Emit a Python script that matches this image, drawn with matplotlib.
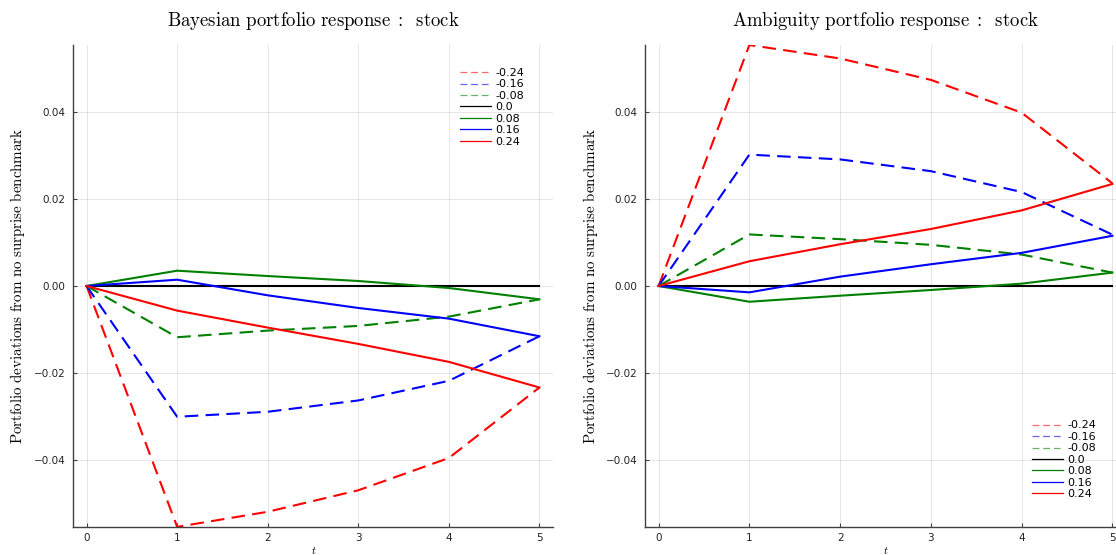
import matplotlib
matplotlib.use("Agg")
import matplotlib.pyplot as plt
from matplotlib.lines import Line2D
import numpy as np

plt.rcParams['mathtext.fontset'] = 'cm'
plt.rcParams['font.family'] = ['DejaVu Sans']

t = [0, 1, 2, 3, 4, 5]
labels = ["-0.24", "-0.16", "-0.08", "0.0", "0.08", "0.16", "0.24"]

bayes = {
    "-0.24": [0.0, -0.05537, -0.0519, -0.04696, -0.03954, -0.02333],
    "-0.16": [0.0, -0.03006, -0.02891, -0.02631, -0.0218, -0.01155],
    "-0.08": [0.0, -0.01178, -0.01025, -0.00918, -0.00704, -0.00306],
    "0.0":   [0.0, 0.0, 0.0, 0.0, 0.0, 0.0],
    "0.08":  [0.0, 0.00352, 0.00229, 0.00115, -0.00046, -0.00306],
    "0.16":  [0.0, 0.00145, -0.00214, -0.00505, -0.0075, -0.01155],
    "0.24":  [0.0, -0.00566, -0.00956, -0.01331, -0.01744, -0.02333],
}
ambig = {
    "-0.24": [0.0, 0.0554, 0.0523, 0.04738, 0.03985, 0.0236],
    "-0.16": [0.0, 0.0302, 0.0291, 0.0264, 0.0216, 0.0118],
    "-0.08": [0.0, 0.01185, 0.01077, 0.00946, 0.00723, 0.00308],
    "0.0":   [0.0, 0.0, 0.0, 0.0, 0.0, 0.0],
    "0.08":  [0.0, -0.00362, -0.00223, -0.00092, 0.00054, 0.00308],
    "0.16":  [0.0, -0.00146, 0.00215, 0.005, 0.00762, 0.01154],
    "0.24":  [0.0, 0.00569, 0.0096, 0.0131, 0.01738, 0.02346],
}

colors = {"-0.24": "#ff0000", "-0.16": "#0000ff", "-0.08": "#008000", "0.0": "#000000",
          "0.08": "#008000", "0.16": "#0000ff", "0.24": "#ff0000"}
dashed = {"-0.24", "-0.16", "-0.08"}

W, H = 1116, 555
fig = plt.figure(figsize=(W / 100, H / 100), dpi=100)

lim = max(max(abs(v) for v in vals) for d in (bayes, ambig) for vals in d.values())

def px(x0, y0, x1, y1):
    return [x0 / W, 1 - y1 / H, (x1 - x0) / W, (y1 - y0) / H]

panels = [
    (bayes, px(73, 45, 553, 527), r"$\mathrm{Bayesian\ portfolio\ response}\;:\;\ \mathrm{stock}$", 313, 18,
     (460, 68)),
    (ambig, px(645, 45, 1126, 527), r"$\mathrm{Ambiguity\ portfolio\ response}\;:\;\ \mathrm{stock}$", 885, 590,
     (1032, 420.5)),
]

for data, pos, title, tx, ylx, leg in panels:
    ax = fig.add_axes(pos)
    for lab in labels:
        if lab in dashed:
            ax.plot(t, data[lab], color=colors[lab], lw=1.5, dashes=(6.5, 3.5))
        else:
            ax.plot(t, data[lab], color=colors[lab], lw=1.5)
    ax.set_xlim(-0.15, 5.15)
    ax.set_ylim(-lim, lim)
    ax.set_xticks([0, 1, 2, 3, 4, 5])
    ax.set_yticks([-0.04, -0.02, 0.0, 0.02, 0.04])
    ax.set_yticklabels(["\u22120.04", "\u22120.02", "0.00", "0.02", "0.04"])
    ax.grid(True, color="black", alpha=0.1, lw=0.7)
    for s in ("top", "right"):
        ax.spines[s].set_visible(False)
    for s in ("left", "bottom"):
        ax.spines[s].set_color("#404040")
        ax.spines[s].set_linewidth(1.0)
    ax.tick_params(direction="in", length=3, width=0.8, color="#404040",
                   labelsize=7.5, labelcolor="#222222", pad=5.5)
    ax.tick_params(axis="x", pad=4)
    handles = []
    for lab in labels:
        if lab in dashed:
            handles.append(Line2D([], [], color=colors[lab], lw=0.9, alpha=0.6, dashes=(5.5, 3.0)))
        else:
            handles.append(Line2D([], [], color=colors[lab], lw=0.9))
    ax.legend(handles, labels, loc="upper left",
              bbox_to_anchor=(leg[0] / W, 1 - leg[1] / H), bbox_transform=fig.transFigure,
              frameon=False, fontsize=8, handlelength=2.8, handletextpad=0.35,
              labelspacing=0.13, borderpad=0, borderaxespad=0)
    fig.text(tx / W, 1 - 26.5 / H, title, ha="center", va="baseline", fontsize=13.5)
    fig.text(ylx / W, 1 - 286 / H, r"$\mathrm{Portfolio\ deviations\ from\ no\ surprise\ benchmark}$",
             rotation=90, ha="center", va="center", fontsize=10.8)
    fig.text((pos[0] + (14 + 226.5) / W), 1 - 550 / H, r"$t$", ha="center", va="center", fontsize=8)

fig.savefig("out.png", dpi=100)
